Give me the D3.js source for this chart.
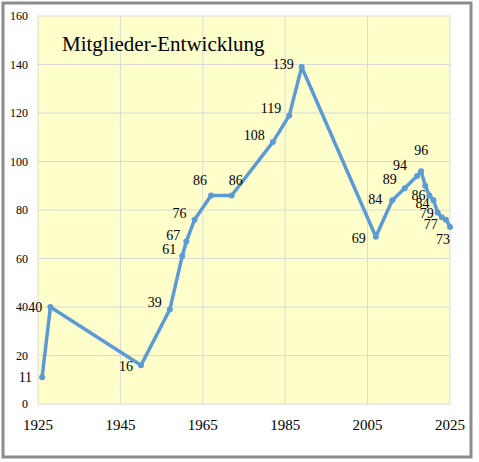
<!DOCTYPE html><html><head><meta charset="utf-8"><script src="https://cdn.jsdelivr.net/npm/d3@7"></script>
<style>body{margin:0;background:#fff}</style></head><body><svg id="c" width="479" height="462"></svg>
<script>
const years=[1926,1928,1950,1957,1960,1961,1963,1967,1972,1982,1986,1989,2007,2011,2014,2017,2018,2019,2020,2021,2022,2023,2024,2025];
const members=[11,40,16,39,61,67,76,86,86,108,119,139,69,84,89,94,96,90,86,84,79,77,76,73];
const showLabel=[1,1,1,1,1,1,1,1,1,1,1,1,1,1,1,1,1,0,1,1,1,1,0,1];
const xTicks=[1925,1945,1965,1985,2005,2025];
const yTicks=[0,20,40,60,80,100,120,140,160];
// label offsets [dx, dy, anchor]
const labelPos=[[-10,5,"end"],[-8,5,"end"],[-8,6,"end"],[-8,-2,"end"],[-6,-2,"end"],[-6,-2,"end"],[-8,-2,"end"],[-4,-10,"end"],[4,-10,"middle"],[-8,-2,"end"],[-8,-2,"end"],[-8,2,"end"],[-10,6,"end"],[-10,4,"end"],[-8,-4,"end"],[-10,-6,"end"],[0,-16,"middle"],[0,0,"end"],[-4,5,"end"],[-4,8,"end"],[-4,6,"end"],[-4,12,"end"],[0,0,"end"],[0,17,"end"]];
const svg=d3.select("#c");
svg.append("rect").attr("x",3).attr("y",3).attr("width",468).attr("height",454).attr("fill","#fff").attr("stroke","#8c8c8c").attr("stroke-width",3);
const x=d3.scaleLinear().domain([1925,2025]).range([38,450]);
const y=d3.scaleLinear().domain([0,160]).range([404,16]);
svg.append("rect").attr("x",38).attr("y",16).attr("width",412).attr("height",388).attr("fill","#ffffcc");
const g=svg.append("g");
g.selectAll(".h").data(yTicks).join("line").attr("x1",38).attr("x2",450).attr("y1",d=>y(d)).attr("y2",d=>y(d)).attr("stroke","#d9d9d9");
g.selectAll(".v").data(xTicks).join("line").attr("y1",16).attr("y2",404).attr("x1",d=>x(d)).attr("x2",d=>x(d)).attr("stroke","#d9d9d9");
svg.selectAll(".yt").data(yTicks).join("text").attr("x",28).attr("y",d=>y(d)+4).attr("text-anchor","end").attr("font-family","Liberation Serif").attr("font-size",12).text(d=>d);
svg.selectAll(".xt").data(xTicks).join("text").attr("x",d=>x(d)).attr("y",430).attr("text-anchor","middle").attr("font-family","Liberation Serif").attr("font-size",15).text(d=>d);
const data=years.map((d,i)=>({x:d,y:members[i],s:showLabel[i],p:labelPos[i]}));
svg.append("path").datum(data).attr("d",d3.line().x(d=>x(d.x)).y(d=>y(d.y))).attr("fill","none").attr("stroke","#5b9bd5").attr("stroke-width",3.5).attr("stroke-linejoin","round");
svg.selectAll(".pt").data(data).join("circle").attr("cx",d=>x(d.x)).attr("cy",d=>y(d.y)).attr("r",3).attr("fill","#5b9bd5");
svg.selectAll(".lb").data(data.filter(d=>d.s)).join("text").attr("x",d=>x(d.x)+d.p[0]).attr("y",d=>y(d.y)+d.p[1]).attr("text-anchor",d=>d.p[2]).attr("font-family","Liberation Serif").attr("font-size",14).text(d=>d.y);
svg.append("text").attr("x",62).attr("y",51).attr("font-family","Liberation Serif").attr("font-size",21).text("Mitglieder-Entwicklung");
</script></body></html>
